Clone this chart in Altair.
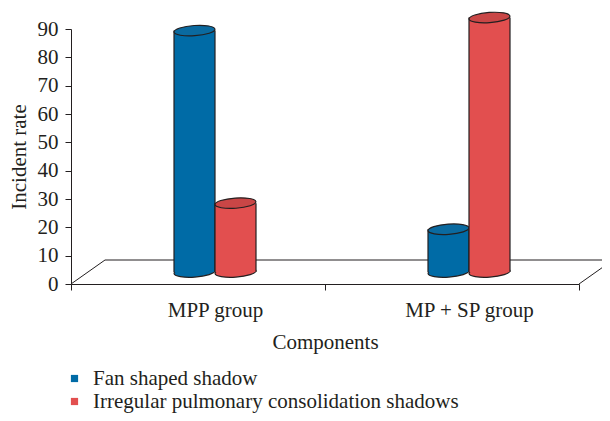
import altair as alt
import pandas as pd

groups = ["MPP group", "MP + SP group"]
series = ["Fan shaped shadow", "Irregular pulmonary consolidation shadows"]
fan_values = [85.2, 15.1]
irregular_values = [24.3, 89.8]
y_ticks = [0, 10, 20, 30, 40, 50, 60, 70, 80, 90]

BLUE = "#006ba6"
BLUE_TOP = "#0a6aa0"
RED = "#e24f4f"
RED_TOP = "#c94646"
EDGE = "#231f20"
TEXT = "#231f20"
FONT = "Liberation Serif"
FS = 21

rows = []
for i, g in enumerate(groups):
    rows.append({"group": g, "series": series[0], "value": fan_values[i], "xi": i + 0.5, "zero": 0})
    rows.append({"group": g, "series": series[1], "value": irregular_values[i], "xi": i + 0.5, "zero": 0})
df = pd.DataFrame(rows)

floor = pd.DataFrame({"x0": [0.0], "x1": [float(len(groups))], "z": [0]})

ELLIPSE = "M -1 0 A 1 0.25 0 1 0 1 0 A 1 0.25 0 1 0 -1 0 Z"
BAR_W = 41
DX = 17   # depth shift x
DY = -12  # depth shift y

xscale = alt.Scale(domain=[0, len(groups)], nice=False, zero=False, padding=0)
yscale = alt.Scale(domain=[0, 90], nice=False, padding=0)

label_expr = " : ".join(
    [f"datum.value == {i + 0.5} ? '{g}'" for i, g in enumerate(groups)]
) + " : ''"

x_axis = alt.Axis(
    values=[0, 0.5, 1, 1.5, 2],
    labelExpr=label_expr,
    labelOffset=DX,
    tickOpacity={"condition": {"test": "datum.value == 0.5 || datum.value == 1.5", "value": 0}, "value": 1},
    tickSize=6,
    labelPadding=9,
    labelFont=FONT, labelFontSize=FS, labelColor=TEXT,
    title="Components", titleFont=FONT, titleFontSize=FS, titleColor=TEXT,
    titleFontWeight="normal", titlePadding=11,
    domainColor=EDGE, tickColor=EDGE, grid=False, labelAngle=0,
    labelOverlap=False,
)
y_axis = alt.Axis(
    values=y_ticks, tickSize=6, labelPadding=7,
    labelFont=FONT, labelFontSize=FS, labelColor=TEXT,
    title="Incident rate", titleFont=FONT, titleFontSize=FS, titleColor=TEXT,
    titleFontWeight="normal", titlePadding=8,
    domainColor=EDGE, tickColor=EDGE, grid=False, labelOverlap=False,
)


def X(field):
    return alt.X(field, type="quantitative", scale=xscale, axis=x_axis)


def Y(field):
    return alt.Y(field, type="quantitative", scale=yscale, axis=y_axis)


# axes carrier
axes = alt.Chart(floor).mark_rule(opacity=0).encode(x=X("x0"), x2="x1", y=Y("z"))

# floor outline
left_edge = alt.Chart(floor).mark_rule(color=EDGE, strokeWidth=1, x2Offset=34, y2Offset=-24).encode(
    x=X("x0"), x2="x0", y=Y("z"), y2="z")
back_edge = alt.Chart(floor).mark_rule(color=EDGE, strokeWidth=1, xOffset=34, x2Offset=34,
                                       yOffset=-24, y2Offset=-24).encode(
    x=X("x0"), x2="x1", y=Y("z"), y2="z")
right_edge = alt.Chart(floor).mark_rule(color=EDGE, strokeWidth=1, x2Offset=34, y2Offset=-24).encode(
    x=X("x1"), x2="x1", y=Y("z"), y2="z")

color_scale = alt.Scale(domain=series, range=[BLUE, RED])
legend = alt.Legend(
    title=None, orient="none", legendX=-7, legendY=339, symbolType="square",
    symbolSize=52, symbolStrokeWidth=0, labelFont=FONT, labelFontSize=FS,
    labelColor=TEXT, rowPadding=1, labelOffset=8, padding=0,
    labelLimit=600,
)

layers = [axes, left_edge, back_edge, right_edge]
for s, col, top_col, off in [(series[0], BLUE, BLUE_TOP, DX - BAR_W / 2),
                             (series[1], RED, RED_TOP, DX + BAR_W / 2)]:
    base = alt.Chart(df).transform_filter(alt.datum.series == s)
    bottom = base.mark_point(shape=ELLIPSE, size=BAR_W ** 2, filled=True, fill=col,
                             stroke=EDGE, strokeWidth=1.2, opacity=1,
                             xOffset=off, yOffset=DY, angle=356).encode(
        x=X("xi"), y=Y("zero"))
    body = base.mark_bar(size=BAR_W, xOffset=off, yOffset=DY, y2Offset=DY,
                         strokeWidth=0, opacity=1).encode(
        x=X("xi"), y=Y("value"), y2="zero",
        color=alt.Color("series:N", scale=color_scale, legend=legend))
    side_l = base.mark_rule(color=EDGE, strokeWidth=1.2, xOffset=off - BAR_W / 2,
                            yOffset=DY, y2Offset=DY).encode(
        x=X("xi"), y=Y("value"), y2="zero")
    side_r = base.mark_rule(color=EDGE, strokeWidth=1.2, xOffset=off + BAR_W / 2,
                            yOffset=DY, y2Offset=DY).encode(
        x=X("xi"), y=Y("value"), y2="zero")
    top = base.mark_point(shape=ELLIPSE, size=BAR_W ** 2, filled=True, fill=top_col,
                          stroke=EDGE, strokeWidth=1.2, opacity=1,
                          xOffset=off, yOffset=DY, angle=356).encode(
        x=X("xi"), y=Y("value"))
    layers += [bottom, body, side_l, side_r, top]

chart = alt.layer(*layers).properties(
    width=508, height=255,
    autosize=alt.AutoSizeParams(type="none"),
    padding={"left": 63, "top": 21, "right": 23, "bottom": 129},
    background="white",
).configure_view(stroke=None)

chart.save("out.html", embed_options={"renderer": "svg", "actions": False})
